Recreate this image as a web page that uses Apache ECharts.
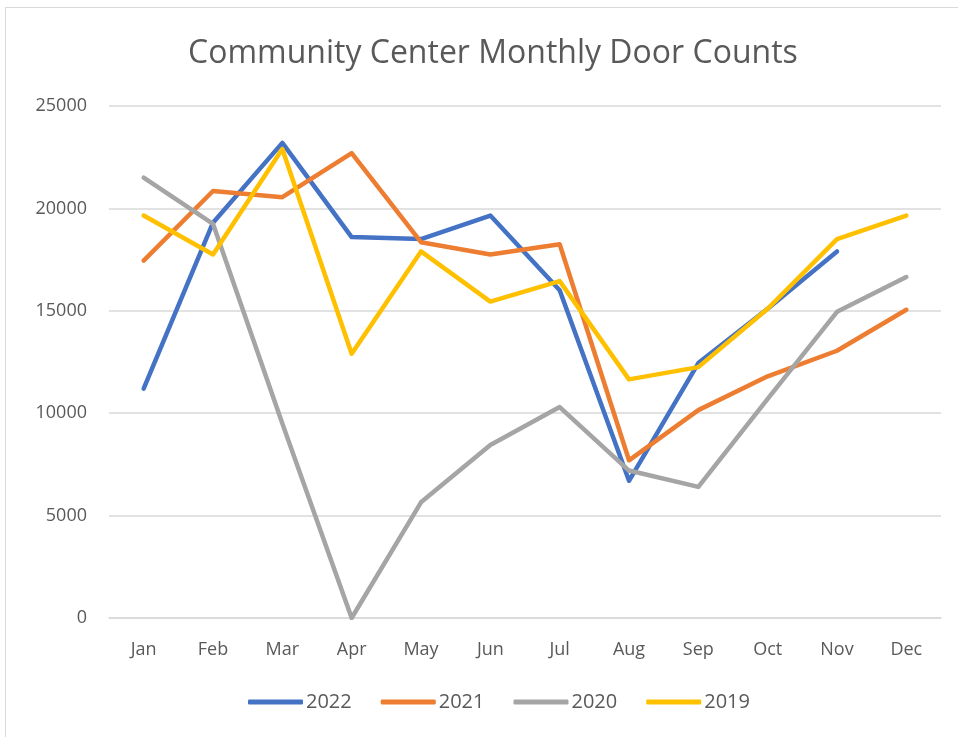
<!DOCTYPE html>
<html lang="en">
<head>
    <meta charset="UTF-8">
    <title>Community Center Monthly Door Counts</title>
    <script src="https://cdn.jsdelivr.net/npm/echarts@6/dist/echarts.min.js"></script>
    <style>
        body { margin: 0; background: #fff; }
        #frame { position: absolute; left: 5px; top: 7px; width: 970px; height: 750px; border: 1px solid #d9d9d9; }
        #main { position: absolute; left: 0; top: 0; width: 958px; height: 737px; }
    </style>
</head>
<body>
<div id="frame"></div>
<div id="main"></div>

<script>
    // data
    const months = ['Jan', 'Feb', 'Mar', 'Apr', 'May', 'Jun', 'Jul', 'Aug', 'Sep', 'Oct', 'Nov', 'Dec'];
    const years = ['2022', '2021', '2020', '2019'];
    const counts2022 = [11200, 19300, 23200, 18600, 18500, 19650, 16000, 6700, 12450, 15100, 17900, null];
    const counts2021 = [17450, 20850, 20550, 22700, 18350, 17750, 18250, 7700, 10150, 11800, 13050, 15050];
    const counts2020 = [21500, 19250, 9500, 0, 5650, 8450, 10300, 7200, 6400, 10700, 14950, 16650];
    const counts2019 = [19650, 17750, 22900, 12900, 17900, 15450, 16450, 11650, 12250, 15100, 18500, 19650];
    const colors = ['#4472C4', '#ED7D31', '#A5A5A5', '#FFC000'];

    const font = 'Open Sans';
    const myChart = echarts.init(document.getElementById('main'));

    const makeLine = function (name, data, color) {
        return {
            name: name,
            type: 'line',
            data: data,
            symbol: 'none',
            connectNulls: false,
            lineStyle: { width: 4.5, color: color, cap: 'round', join: 'round' },
            itemStyle: { color: color }
        };
    };

    myChart.setOption({
        animation: false,
        title: {
            text: 'Community Center Monthly Door Counts',
            left: 183,
            top: 33,
            textStyle: { fontFamily: font, fontSize: 32, fontWeight: 'normal', color: '#595959' }
        },
        legend: {
            bottom: 20,
            left: 243,
            icon: 'roundRect',
            itemWidth: 55,
            itemHeight: 5,
            itemGap: 29,
            textStyle: { fontFamily: font, fontSize: 20, color: '#595959', padding: [0, 0, 0, -2] },
            data: years
        },
        grid: { left: 109, right: 17, top: 106, bottom: 119, containLabel: false },
        xAxis: {
            type: 'category',
            data: months,
            boundaryGap: true,
            axisLine: { lineStyle: { color: '#d9d9d9', width: 1.5 } },
            axisTick: { show: false },
            axisLabel: { fontFamily: font, fontSize: 18, color: '#595959', margin: 23 }
        },
        yAxis: {
            type: 'value',
            min: 0,
            max: 25000,
            interval: 5000,
            axisLine: { show: false },
            axisTick: { show: false },
            axisLabel: {
                fontFamily: font, fontSize: 18, color: '#595959', margin: 22,
                formatter: function (v) { return String(v); }
            },
            splitLine: { lineStyle: { color: '#d9d9d9', width: 1.5 } }
        },
        series: [
            makeLine(years[0], counts2022, colors[0]),
            makeLine(years[1], counts2021, colors[1]),
            makeLine(years[2], counts2020, colors[2]),
            makeLine(years[3], counts2019, colors[3])
        ]
    });
</script>
</body>
</html>
